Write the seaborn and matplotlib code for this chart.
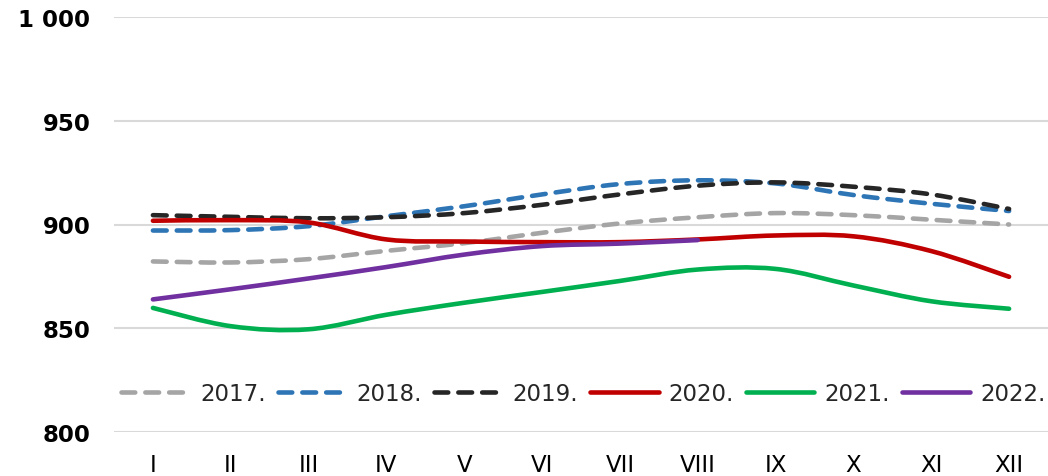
import numpy as np
import matplotlib
matplotlib.use("Agg")
import matplotlib.pyplot as plt
import seaborn as sns
from matplotlib.path import Path
from matplotlib.patches import PathPatch
from matplotlib.lines import Line2D
from matplotlib.ticker import FixedLocator, FixedFormatter

# Data
months = ["I", "II", "III", "IV", "V", "VI", "VII", "VIII", "IX", "X", "XI", "XII"]
years = ["2017.", "2018.", "2019.", "2020.", "2021.", "2022."]

v2017 = [882.2, 881.7, 883.3, 887.3, 891.0, 896.0, 900.5, 903.5, 905.5, 904.5, 902.3, 900.0]
v2018 = [897.1, 897.3, 899.2, 904.0, 908.8, 914.5, 919.5, 921.3, 919.8, 914.2, 910.0, 906.5]
v2019 = [904.5, 903.7, 903.0, 903.5, 905.5, 909.5, 914.5, 918.7, 920.3, 918.2, 914.5, 907.5]
v2020 = [901.8, 902.1, 901.0, 892.8, 891.8, 891.5, 891.5, 892.8, 894.7, 894.3, 887.2, 874.8]
v2021 = [859.8, 851.0, 849.5, 856.5, 862.3, 867.5, 872.8, 878.3, 878.6, 870.6, 863.0, 859.4]
v2022 = [863.9, 868.8, 874.0, 879.5, 885.5, 889.6, 890.8, 892.5]

yticks = [800, 850, 900, 950, 1000]
ytick_labels = ["800", "850", "900", "950", "1 000"]

colors = ["#A5A5A5", "#2E75B6", "#262626", "#C00000", "#00B050", "#7030A0"]
dashed = [True, True, True, False, False, False]
series = [v2017, v2018, v2019, v2020, v2021, v2022]

sns.set_theme(style="white")
plt.rcParams["font.family"] = ["DejaVu Sans"]


def smooth_path(xs, ys):
    # Excel-style smoothed line: cubic Bezier segments through every point
    pts = np.column_stack([xs, ys]).astype(float)
    n = len(pts)
    verts = [pts[0]]
    codes = [Path.MOVETO]
    for i in range(n - 1):
        p0 = pts[max(i - 1, 0)]
        p1 = pts[i]
        p2 = pts[i + 1]
        p3 = pts[min(i + 2, n - 1)]
        c1 = p1 + (p2 - p0) / 6.0
        c2 = p2 - (p3 - p1) / 6.0
        verts += [c1, c2, p2]
        codes += [Path.CURVE4] * 3
    return Path(verts, codes)


fig = plt.figure(figsize=(10.48, 4.77), dpi=100)
ax = fig.add_axes([114 / 1048, 1 - 433 / 477, 934 / 1048, 415 / 477])

lw = 3.3
dash = (0, (3.0, 2.2))
handles = []
for name, vals, col, ds in zip(years, series, colors, dashed):
    x = np.arange(len(vals))
    patch = PathPatch(smooth_path(x, vals), fill=False, edgecolor=col, lw=lw,
                      linestyle=dash if ds else "-", capstyle="round",
                      joinstyle="round", zorder=3)
    ax.add_patch(patch)
    handles.append(Line2D([], [], color=col, lw=lw,
                          linestyle=dash if ds else "-",
                          dash_capstyle="round", solid_capstyle="round",
                          label=name))

ax.set_xlim(-0.5, 11.5)
ax.set_ylim(800, 1000)
ax.xaxis.set_major_locator(FixedLocator(range(len(months))))
ax.xaxis.set_major_formatter(FixedFormatter(months))
ax.yaxis.set_major_locator(FixedLocator(yticks))
ax.yaxis.set_major_formatter(FixedFormatter(ytick_labels))

ax.grid(axis="y", color="#D9D9D9", lw=1.5, zorder=0)
ax.set_axisbelow(True)
sns.despine(ax=ax, left=True, bottom=True, top=True, right=True)

ax.tick_params(axis="x", length=0, pad=15, labelsize=16.5, colors="black")
ax.tick_params(axis="y", length=0, pad=17, labelsize=16.5, colors="black")
for t in ax.get_yticklabels():
    t.set_fontweight("bold")

ax.legend(handles=handles, ncol=6, loc="center", bbox_to_anchor=(0.503, 0.0916),
          frameon=False, fontsize=16.5, handlelength=3.0, handletextpad=0.45,
          columnspacing=0.5, borderpad=0, borderaxespad=0)

fig.savefig("out.png", dpi=100)
